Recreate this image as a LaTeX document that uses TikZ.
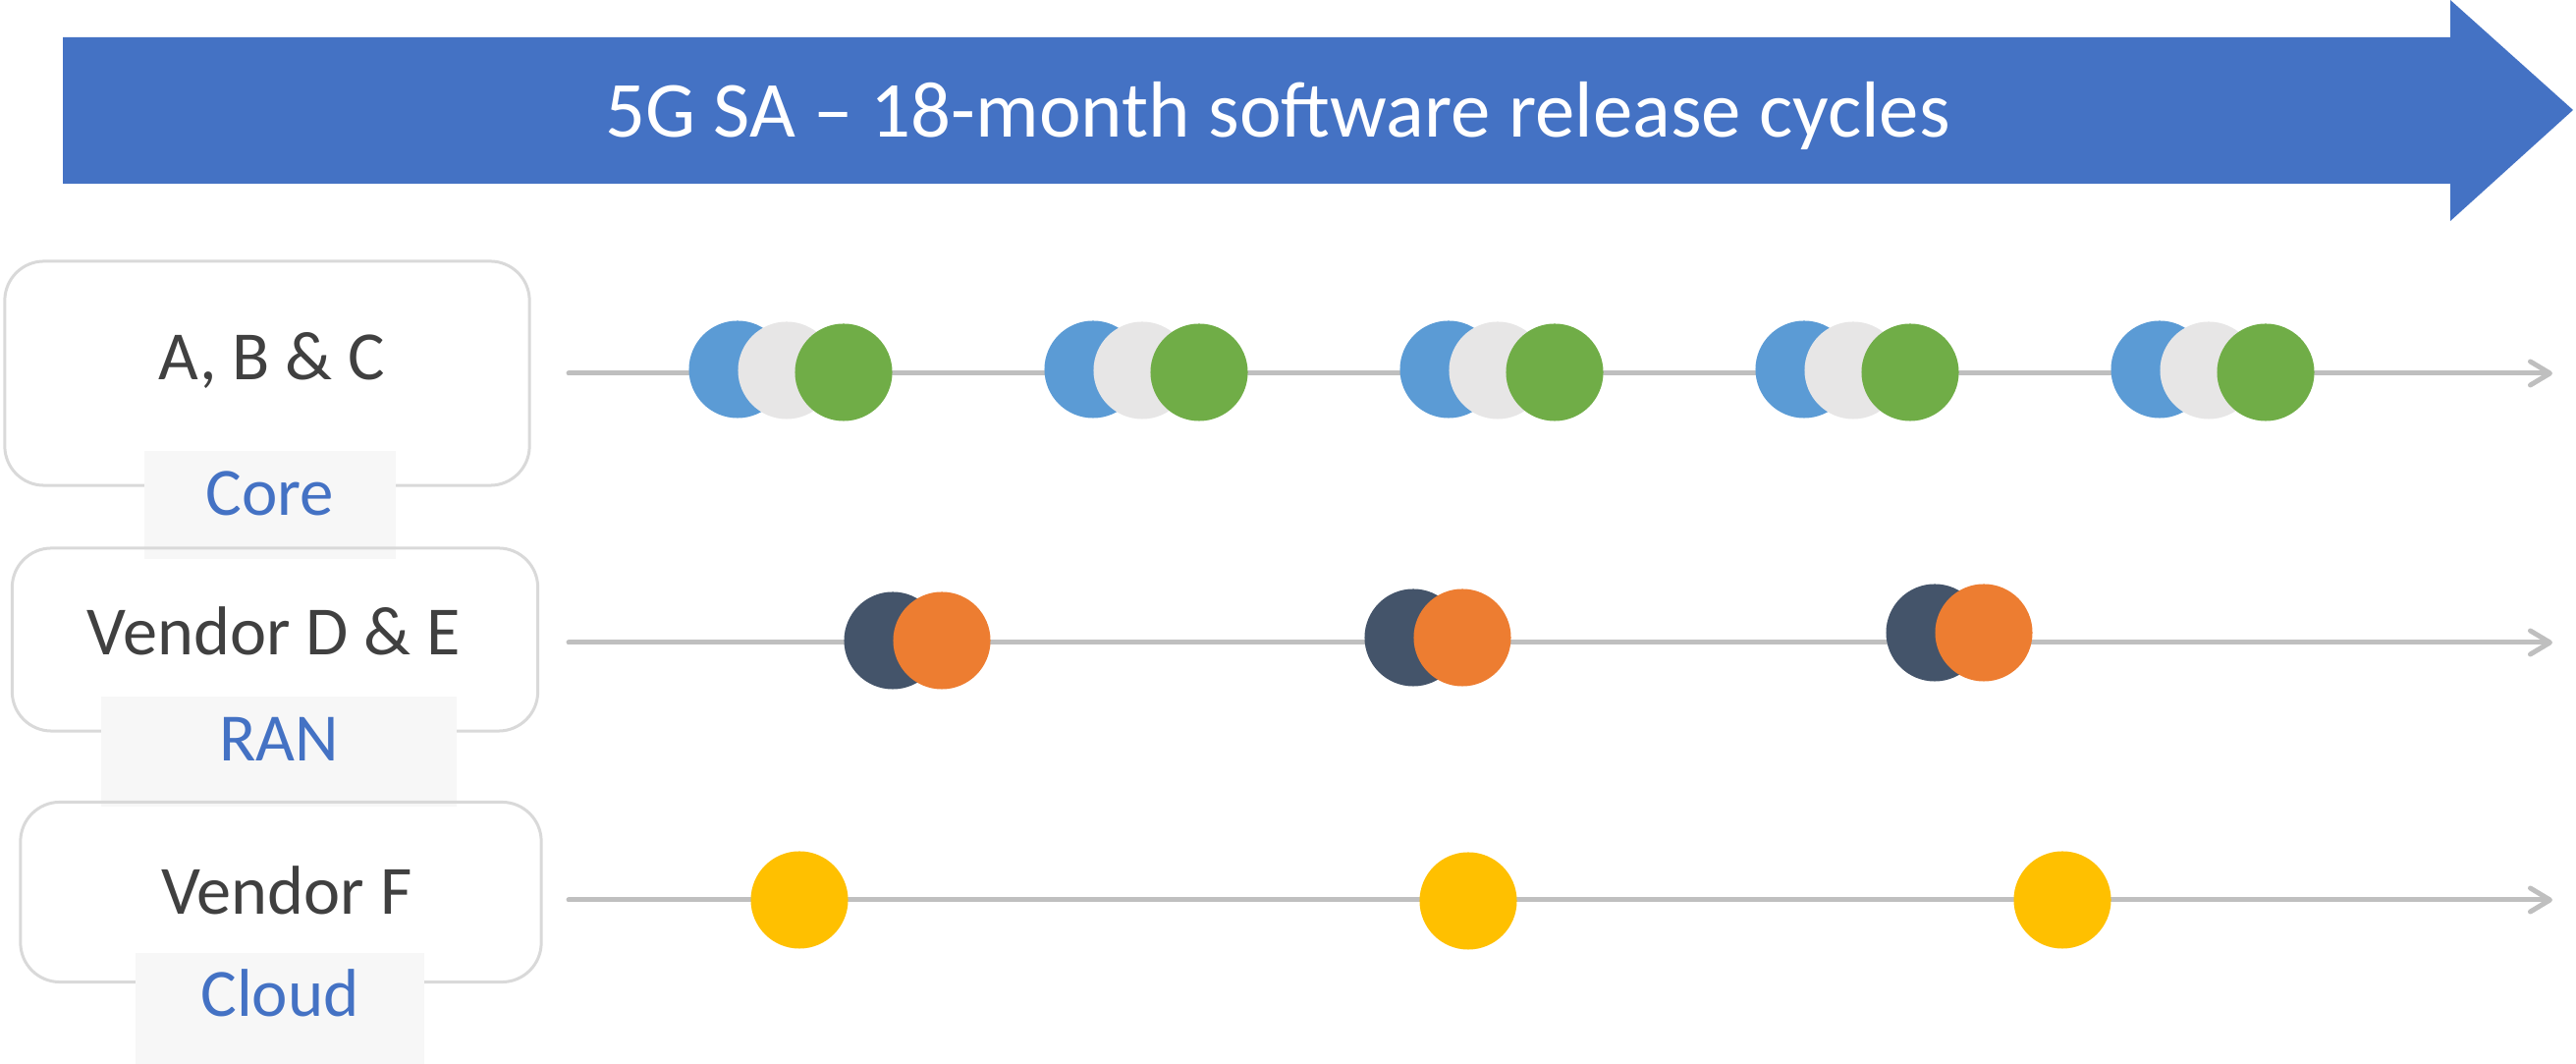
\documentclass[tikz,border=0pt]{standalone}
\usepackage{fontspec}
\setmainfont{Carlito}
\usepackage{xcolor}
\usetikzlibrary{arrows.meta}
\definecolor{bannerblue}{HTML}{4472C4}
\definecolor{boxgray}{HTML}{D9D9D9}
\definecolor{tagfill}{HTML}{F7F7F7}
\definecolor{linegray}{HTML}{BFBFBF}
\definecolor{textgray}{HTML}{404040}
\definecolor{relblue}{HTML}{5B9BD5}
\definecolor{relgray}{HTML}{E7E6E6}
\definecolor{relgreen}{HTML}{70AD47}
\definecolor{relnavy}{HTML}{44546A}
\definecolor{relorange}{HTML}{ED7D31}
\definecolor{relyellow}{HTML}{FFC000}

\begin{document}
\begin{tikzpicture}[x=0.01cm,y=-0.01cm,
            vendorbox/.style={draw=boxgray,line width=0.03cm,rounded corners=0.4cm,inner sep=0pt},
            vendortext/.style={anchor=base,text=textgray,font=\fontsize{20}{24}\selectfont,inner sep=0pt},
            tagbox/.style={fill=tagfill,inner sep=0pt},
            tagtext/.style={anchor=base,text=bannerblue,font=\fontsize{19.6}{23}\selectfont,inner sep=0pt},
            timeline/.style={draw=linegray,line width=0.05cm,line cap=round,-{Straight Barb[length=0.2cm,width=0.24cm,line cap=round,round]}},
            release/.style={circle,minimum size=0.99cm,inner sep=0pt}]
            \useasboundingbox (0,0) rectangle (2623,1083);

            \fill[bannerblue] (64,38) -- (2495,38) -- (2495,0) -- (2620,112) -- (2495,225) -- (2495,187) -- (64,187) -- cycle;
            \node[anchor=base,text=white,font=\fontsize{23}{27}\selectfont,inner sep=0pt] (title) at (1301,140) {5G SA -- 18-month software release cycles};

            \node[vendorbox,minimum width=5.34cm,minimum height=2.28cm] (coreBox) at (272,380) {};
            \node[vendortext] (coreName) at (277,387) {A, B \& C};
            \node[tagbox,minimum width=2.56cm,minimum height=1.1cm] (coreTag) at (275,514) {};
            \node[tagtext] (coreLabel) at (275,525) {Core};

            \node[vendorbox,minimum width=5.35cm,minimum height=1.86cm] (ranBox) at (280,651) {};
            \node[vendortext] (ranName) at (279,667) {Vendor D \& E};
            \node[tagbox,minimum width=3.62cm,minimum height=1.11cm] (ranTag) at (284,765) {};
            \node[tagtext] (ranLabel) at (284,775) {RAN};

            \node[vendorbox,minimum width=5.3cm,minimum height=1.83cm] (cloudBox) at (286,908) {};
            \node[vendortext] (cloudName) at (292,931) {Vendor F};
            \node[tagbox,minimum width=2.93cm,minimum height=1.13cm] (cloudTag) at (285,1027) {};
            \node[tagtext] (cloudLabel) at (285,1035) {Cloud};

            \coordinate (coreStart) at (579,380);
            \coordinate (coreEnd) at (2599,380);
            \coordinate (ranStart) at (579,654);
            \coordinate (ranEnd) at (2599,654);
            \coordinate (cloudStart) at (579,916);
            \coordinate (cloudEnd) at (2599,916);

            \draw[timeline] (coreStart) -- (coreEnd);
            \draw[timeline] (ranStart) -- (ranEnd);
            \draw[timeline] (cloudStart) -- (cloudEnd);

            \node[release,fill=relblue] (coreA1) at (751,376) {};
            \node[release,fill=relgray] (coreB1) at (801,377) {};
            \node[release,fill=relgreen] (coreC1) at (859,379) {};
            \node[release,fill=relblue] (coreA2) at (1113,376) {};
            \node[release,fill=relgray] (coreB2) at (1163,377) {};
            \node[release,fill=relgreen] (coreC2) at (1221,379) {};
            \node[release,fill=relblue] (coreA3) at (1475,376) {};
            \node[release,fill=relgray] (coreB3) at (1525,377) {};
            \node[release,fill=relgreen] (coreC3) at (1583,379) {};
            \node[release,fill=relblue] (coreA4) at (1837,376) {};
            \node[release,fill=relgray] (coreB4) at (1887,377) {};
            \node[release,fill=relgreen] (coreC4) at (1945,379) {};
            \node[release,fill=relblue] (coreA5) at (2199,376) {};
            \node[release,fill=relgray] (coreB5) at (2249,377) {};
            \node[release,fill=relgreen] (coreC5) at (2307,379) {};

            \node[release,fill=relnavy] (ranD1) at (909,652) {};
            \node[release,fill=relorange] (ranE1) at (959,652) {};
            \node[release,fill=relnavy] (ranD2) at (1439,649) {};
            \node[release,fill=relorange] (ranE2) at (1489,649) {};
            \node[release,fill=relnavy] (ranD3) at (1970,644) {};
            \node[release,fill=relorange] (ranE3) at (2020,644) {};

            \node[release,fill=relyellow] (cloudF1) at (814,916) {};
            \node[release,fill=relyellow] (cloudF2) at (1495,917) {};
            \node[release,fill=relyellow] (cloudF3) at (2100,916) {};
        \end{tikzpicture}
\end{document}
